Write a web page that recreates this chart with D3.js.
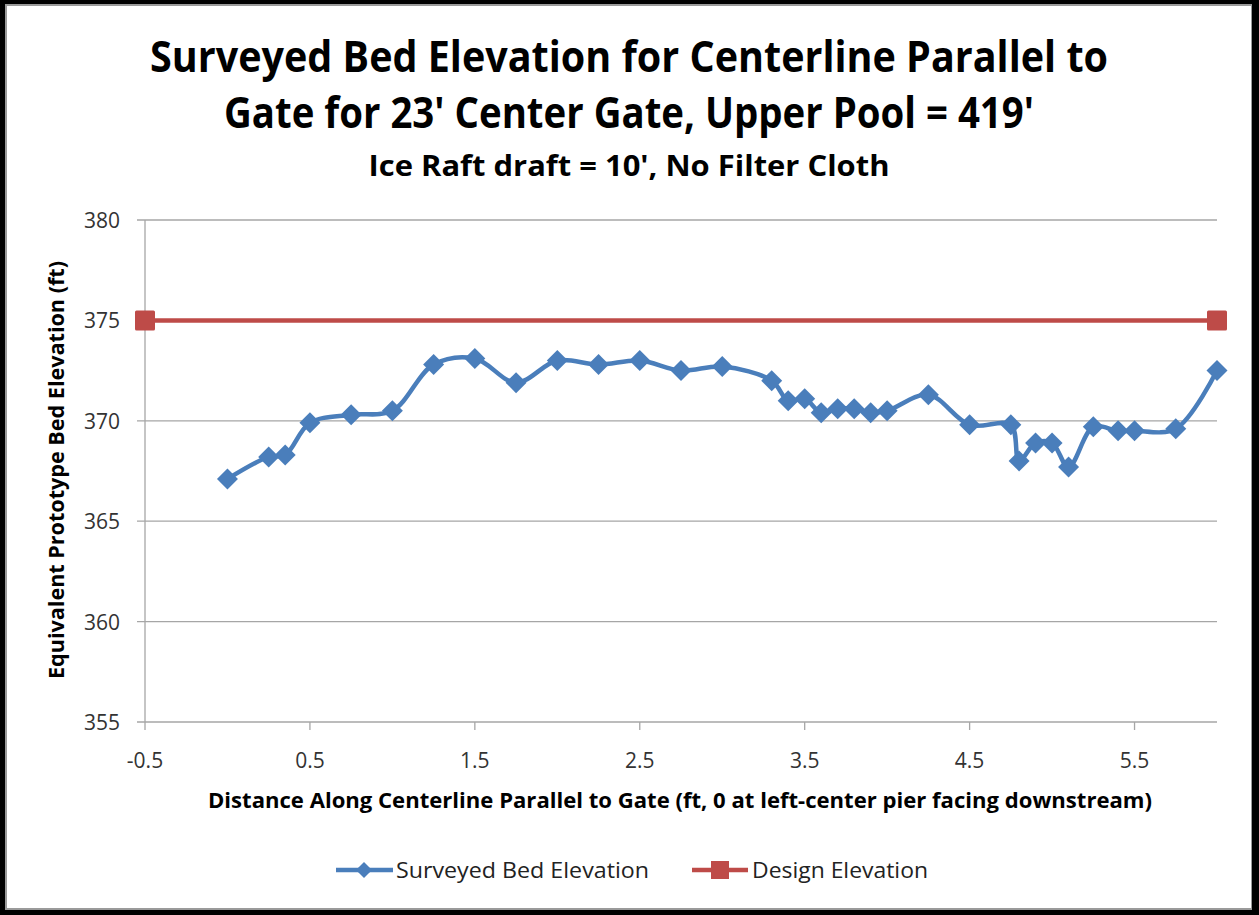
<!DOCTYPE html>
<html>
<head>
<meta charset="utf-8">
<script src="https://cdnjs.cloudflare.com/ajax/libs/d3/7.8.5/d3.min.js"></script>
<style>
  body { margin: 0; background: #fff; }
  svg text { font-family: "Open Sans", "Noto Sans", "Liberation Sans", sans-serif; }
</style>
</head>
<body>
<div id="chart"></div>
<script>
// surveyed bed elevation along the centerline
const distances = [0, 0.25, 0.35, 0.5, 0.75, 1.0, 1.25, 1.5, 1.75, 2.0, 2.25, 2.5, 2.75, 3.0,
    3.3, 3.4, 3.5, 3.6, 3.7, 3.8, 3.9, 4.0, 4.25, 4.5, 4.75, 4.8, 4.9, 5.0, 5.1, 5.25,
    5.4, 5.5, 5.75, 6.0];
const elevations = [367.1, 368.2, 368.3, 369.9, 370.3, 370.5, 372.8, 373.1, 371.9, 373.0, 372.8,
    373.0, 372.5, 372.7, 372.0, 371.0, 371.1, 370.4, 370.6, 370.6, 370.4, 370.5, 371.3,
    369.8, 369.8, 368.0, 368.9, 368.9, 367.7, 369.7, 369.5, 369.5, 369.6, 372.5];

// design elevation line
const designDistances = [-0.5, 6.0];
const designElevations = [375, 375];

const xTicks = [-0.5, 0.5, 1.5, 2.5, 3.5, 4.5, 5.5];
const yTicks = [355, 360, 365, 370, 375, 380];

const titleLines = [
    "Surveyed Bed Elevation for Centerline Parallel to",
    "Gate for 23' Center Gate, Upper Pool = 419'"
];
const subTitle = "Ice Raft draft = 10', No Filter Cloth";
const xLabel = "Distance Along Centerline Parallel to Gate (ft, 0 at left-center pier facing downstream)";
const yLabel = "Equivalent Prototype Bed Elevation (ft)";
const seriesNames = ["Surveyed Bed Elevation", "Design Elevation"];

const config = {
    width: 1259,
    height: 915,
    plotLeft: 145,
    plotRight: 1217,
    plotTop: 220,
    plotBottom: 722,
    blue: '#4a7ebb',
    red: '#be4b48',
    grid: '#a6a6a6'
};

const makeChart = () => {
    const svg = d3.select('#chart').append('svg')
        .attr('width', config.width)
        .attr('height', config.height);

    // frame
    svg.append('rect').attr('x', 0).attr('y', 0)
        .attr('width', config.width).attr('height', config.height).attr('fill', '#000');
    svg.append('rect').attr('x', 5).attr('y', 4)
        .attr('width', 1247).attr('height', 906).attr('fill', '#9a9a9a');
    svg.append('rect').attr('x', 7).attr('y', 6)
        .attr('width', 1244).attr('height', 902).attr('fill', '#fff');

    const x = d3.scaleLinear().domain([-0.5, 6.0]).range([config.plotLeft, config.plotRight]);
    const y = d3.scaleLinear().domain([355, 380]).range([config.plotBottom, config.plotTop]);

    // titles
    const titleG = svg.append('g').attr('fill', '#000').attr('font-weight', 'bold');
    titleG.selectAll('text.title')
            .data(titleLines)
        .enter().append('text')
            .attr('class', 'title')
            .attr('x', 629)
            .attr('y', (d, i) => 72 + i * 56)
            .attr('text-anchor', 'middle')
            .attr('font-size', 43)
            .attr('textLength', (d, i) => i == 0 ? 958 : 810)
            .attr('lengthAdjust', 'spacingAndGlyphs')
            .text(d => d);
    titleG.append('text')
        .attr('x', 629).attr('y', 176)
        .attr('text-anchor', 'middle')
        .attr('font-size', 29)
        .attr('textLength', 521)
        .attr('lengthAdjust', 'spacingAndGlyphs')
        .text(subTitle);

    // horizontal gridlines
    svg.append('g').selectAll('line')
            .data(yTicks)
        .enter().append('line')
            .attr('x1', config.plotLeft - 8).attr('x2', config.plotRight)
            .attr('y1', d => y(d)).attr('y2', d => y(d))
            .attr('stroke', config.grid).attr('stroke-width', 1.3);

    // y axis line
    svg.append('line')
        .attr('x1', config.plotLeft).attr('x2', config.plotLeft)
        .attr('y1', config.plotTop).attr('y2', config.plotBottom)
        .attr('stroke', config.grid).attr('stroke-width', 1.3);

    // x ticks
    svg.append('g').selectAll('line')
            .data(xTicks)
        .enter().append('line')
            .attr('x1', d => x(d)).attr('x2', d => x(d))
            .attr('y1', config.plotBottom).attr('y2', config.plotBottom + 8)
            .attr('stroke', config.grid).attr('stroke-width', 1.3);

    // tick labels
    svg.append('g').selectAll('text')
            .data(yTicks)
        .enter().append('text')
            .attr('x', 120).attr('y', d => y(d) + 8)
            .attr('text-anchor', 'end')
            .attr('font-size', 21).attr('fill', '#333')
            .text(d => d);
    svg.append('g').selectAll('text')
            .data(xTicks)
        .enter().append('text')
            .attr('x', d => x(d)).attr('y', 768)
            .attr('text-anchor', 'middle')
            .attr('font-size', 21).attr('fill', '#333')
            .text(d => d.toFixed(1));

    // axis titles
    svg.append('text')
        .attr('x', 680).attr('y', 808)
        .attr('text-anchor', 'middle')
        .attr('font-size', 21).attr('font-weight', 'bold')
        .attr('textLength', 944).attr('lengthAdjust', 'spacingAndGlyphs')
        .text(xLabel);
    svg.append('text')
        .attr('transform', 'translate(64,470) rotate(-90)')
        .attr('text-anchor', 'middle')
        .attr('font-size', 21).attr('font-weight', 'bold')
        .attr('textLength', 418).attr('lengthAdjust', 'spacingAndGlyphs')
        .text(yLabel);

    // design line
    const design = designDistances.map((d, i) => ({x: d, y: designElevations[i]}));
    svg.append('path')
        .datum(design)
        .attr('d', d3.line().x(d => x(d.x)).y(d => y(d.y)))
        .attr('fill', 'none').attr('stroke', config.red).attr('stroke-width', 4.5);
    svg.append('g').selectAll('rect')
            .data(design)
        .enter().append('rect')
            .attr('x', d => x(d.x) - 10).attr('y', d => y(d.y) - 10)
            .attr('width', 20).attr('height', 20).attr('rx', 1.5)
            .attr('fill', config.red);

    // surveyed line
    const survey = distances.map((d, i) => ({x: d, y: elevations[i]}));
    svg.append('path')
        .datum(survey)
        .attr('d', d3.line().x(d => x(d.x)).y(d => y(d.y)).curve(d3.curveCatmullRom.alpha(0.5)))
        .attr('fill', 'none').attr('stroke', config.blue).attr('stroke-width', 4.5)
        .attr('stroke-linejoin', 'round');
    const diamond = d3.symbol().type(d3.symbolSquare).size(220);
    svg.append('g').selectAll('path')
            .data(survey)
        .enter().append('path')
            .attr('d', diamond)
            .attr('transform', d => `translate(${x(d.x)},${y(d.y)}) rotate(45)`)
            .attr('fill', config.blue);

    // legend
    const legend = svg.append('g');
    legend.append('line').attr('x1', 336).attr('x2', 393).attr('y1', 870).attr('y2', 870)
        .attr('stroke', config.blue).attr('stroke-width', 4.5);
    legend.append('path').attr('d', d3.symbol().type(d3.symbolSquare).size(130))
        .attr('transform', 'translate(364,870) rotate(45)').attr('fill', config.blue);
    legend.append('text').attr('x', 396).attr('y', 878).attr('font-size', 22).attr('fill', '#222')
        .attr('textLength', 253).attr('lengthAdjust', 'spacingAndGlyphs')
        .text(seriesNames[0]);
    legend.append('line').attr('x1', 692).attr('x2', 748).attr('y1', 870).attr('y2', 870)
        .attr('stroke', config.red).attr('stroke-width', 4.5);
    legend.append('rect').attr('x', 711).attr('y', 861).attr('width', 18).attr('height', 18)
        .attr('fill', config.red);
    legend.append('text').attr('x', 752).attr('y', 878).attr('font-size', 22).attr('fill', '#222')
        .attr('textLength', 176).attr('lengthAdjust', 'spacingAndGlyphs')
        .text(seriesNames[1]);
};

makeChart();
</script>
</body>
</html>
